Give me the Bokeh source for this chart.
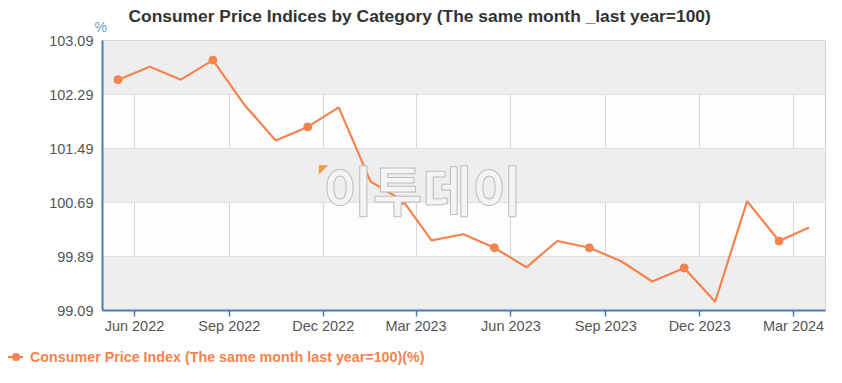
from datetime import datetime
from bokeh.plotting import figure
from bokeh.layouts import column
from bokeh.models import (Range1d, BoxAnnotation, FixedTicker, DatetimeTickFormatter, Title,
                          Label, ColumnDataSource, NumeralTickFormatter, Div)
from bokeh.embed import file_html
from bokeh.resources import INLINE

# ---- data ----
months = ["2022-05", "2022-06", "2022-07", "2022-08", "2022-09", "2022-10", "2022-11", "2022-12",
          "2023-01", "2023-02", "2023-03", "2023-04", "2023-05", "2023-06", "2023-07", "2023-08",
          "2023-09", "2023-10", "2023-11", "2023-12", "2024-01", "2024-02", "2024-03"]
cpi = [102.51, 102.70, 102.51, 102.80, 102.13, 101.61, 101.81, 102.10,
       101.00, 100.72, 100.13, 100.22, 100.02, 99.73, 100.12, 100.02,
       99.82, 99.52, 99.72, 99.22, 100.71, 100.12, 100.32]
marker_months = ["2022-05", "2022-08", "2022-11", "2023-02", "2023-05", "2023-08", "2023-11", "2024-02"]
y_ticks = [99.09, 99.89, 100.69, 101.49, 102.29, 103.09]
x_tick_months = ["2022-06", "2022-09", "2022-12", "2023-03", "2023-06", "2023-09", "2023-12", "2024-03"]
title_text = "Consumer Price Indices by Category (The same month _last year=100)"
series_name = "Consumer Price Index (The same month last year=100)(%)"
unit_text = "%"
watermark_text = "이투데이"

def mid(m):
    y, mo = m.split("-")
    return datetime(int(y), int(mo), 16)

def start(m):
    y, mo = m.split("-")
    return datetime(int(y), int(mo), 1)

xs = [mid(m) for m in months]
src = ColumnDataSource(dict(x=xs, y=cpi))
msrc = ColumnDataSource(dict(x=[mid(m) for m in marker_months],
                             y=[cpi[months.index(m)] for m in marker_months]))

ORANGE = "#f4834e"
BLUE = "#4a7fb5"
FONT = "Liberation Sans"

p = figure(width=842, height=340, output_backend="svg", toolbar_location=None,
           x_axis_type="datetime",
           x_range=Range1d(start("2022-05"), start("2024-04")),
           y_range=Range1d(y_ticks[0], y_ticks[-1]),
           min_border_left=102, min_border_right=17, min_border_top=40, min_border_bottom=30)
p.title.visible = False
p.background_fill_color = "#fdfdfd"
p.border_fill_color = "white"
p.outline_line_color = "#cccccc"

# alternating bands
for i in range(len(y_ticks) - 1):
    if i % 2 == 0:
        p.add_layout(BoxAnnotation(bottom=y_ticks[i], top=y_ticks[i + 1],
                                   fill_color="#eeeeee", fill_alpha=1, line_alpha=0, level="underlay"))

p.yaxis.ticker = FixedTicker(ticks=y_ticks)
p.yaxis.formatter = NumeralTickFormatter(format="0.00")
p.xaxis.ticker = FixedTicker(ticks=[start(m).timestamp() * 1000 for m in x_tick_months])
p.xaxis.formatter = DatetimeTickFormatter(months="%b %Y", days="%b %Y", years="%b %Y")

p.xgrid.grid_line_color = "#d6d6d6"
p.ygrid.grid_line_color = "#d6d6d6"

for ax in (p.xaxis[0], p.yaxis[0]):
    ax.axis_line_color = BLUE
    ax.axis_line_width = 2
    ax.major_label_text_font = FONT
    ax.major_label_text_font_size = "14.5px"
    ax.major_label_text_color = "#555555"
    ax.minor_tick_line_color = None
p.yaxis.major_tick_line_color = None
p.yaxis.major_tick_out = 0
p.yaxis.major_label_standoff = 9
p.xaxis.major_tick_line_color = BLUE
p.xaxis.major_tick_line_width = 1.5
p.xaxis.major_tick_in = 0
p.xaxis.major_tick_out = 6
p.xaxis.major_label_standoff = 1

# watermark
p.add_layout(Label(x=320, y=122, x_units="screen", y_units="screen", text=watermark_text,
                   text_font="Noto Sans CJK KR", text_font_size="54px", text_font_style="bold",
                   text_color="#f4f4f4", text_outline_color="#bdbdbd",
                   text_align="center", text_baseline="middle"))
p.add_layout(Label(x=221, y=142, x_units="screen", y_units="screen", text="◤",
                   text_font="DejaVu Sans", text_font_size="12px", text_color="#f39a45",
                   text_align="center", text_baseline="middle"))

p.line("x", "y", source=src, line_color=ORANGE, line_width=2.2)
p.scatter("x", "y", source=msrc, size=8, fill_color=ORANGE, line_color=ORANGE)

p.add_layout(Title(text=unit_text, align="left", offset=-8, standoff=12,
                   text_font=FONT, text_font_size="14px", text_font_style="normal",
                   text_color="#6ba0cc"), "above")
p.add_layout(Title(text=title_text, align="left", offset=26, standoff=-30,
                   text_font=FONT, text_font_size="17.4px", text_font_style="bold",
                   text_color="#333333"), "above")

# legend strip below the chart
legend_html = (
    '<div style="position:relative;width:842px;height:43px;">'
    '<div style="position:absolute;left:8px;top:16px;width:15px;height:2px;background:%s;"></div>'
    '<div style="position:absolute;left:11.5px;top:13px;width:8px;height:8px;border-radius:50%%;background:%s;"></div>'
    '<div style="position:absolute;left:30px;top:8px;line-height:18px;font-family:\'%s\';'
    'font-size:14.3px;font-weight:bold;color:%s;white-space:nowrap;">%s</div>'
    '</div>' % (ORANGE, ORANGE, FONT, ORANGE, series_name)
)
lg = Div(text=legend_html, width=842, height=43, margin=0)

layout = column(p, lg, spacing=0)
out = file_html(layout, INLINE)
open("out.html", "w").write(out)
